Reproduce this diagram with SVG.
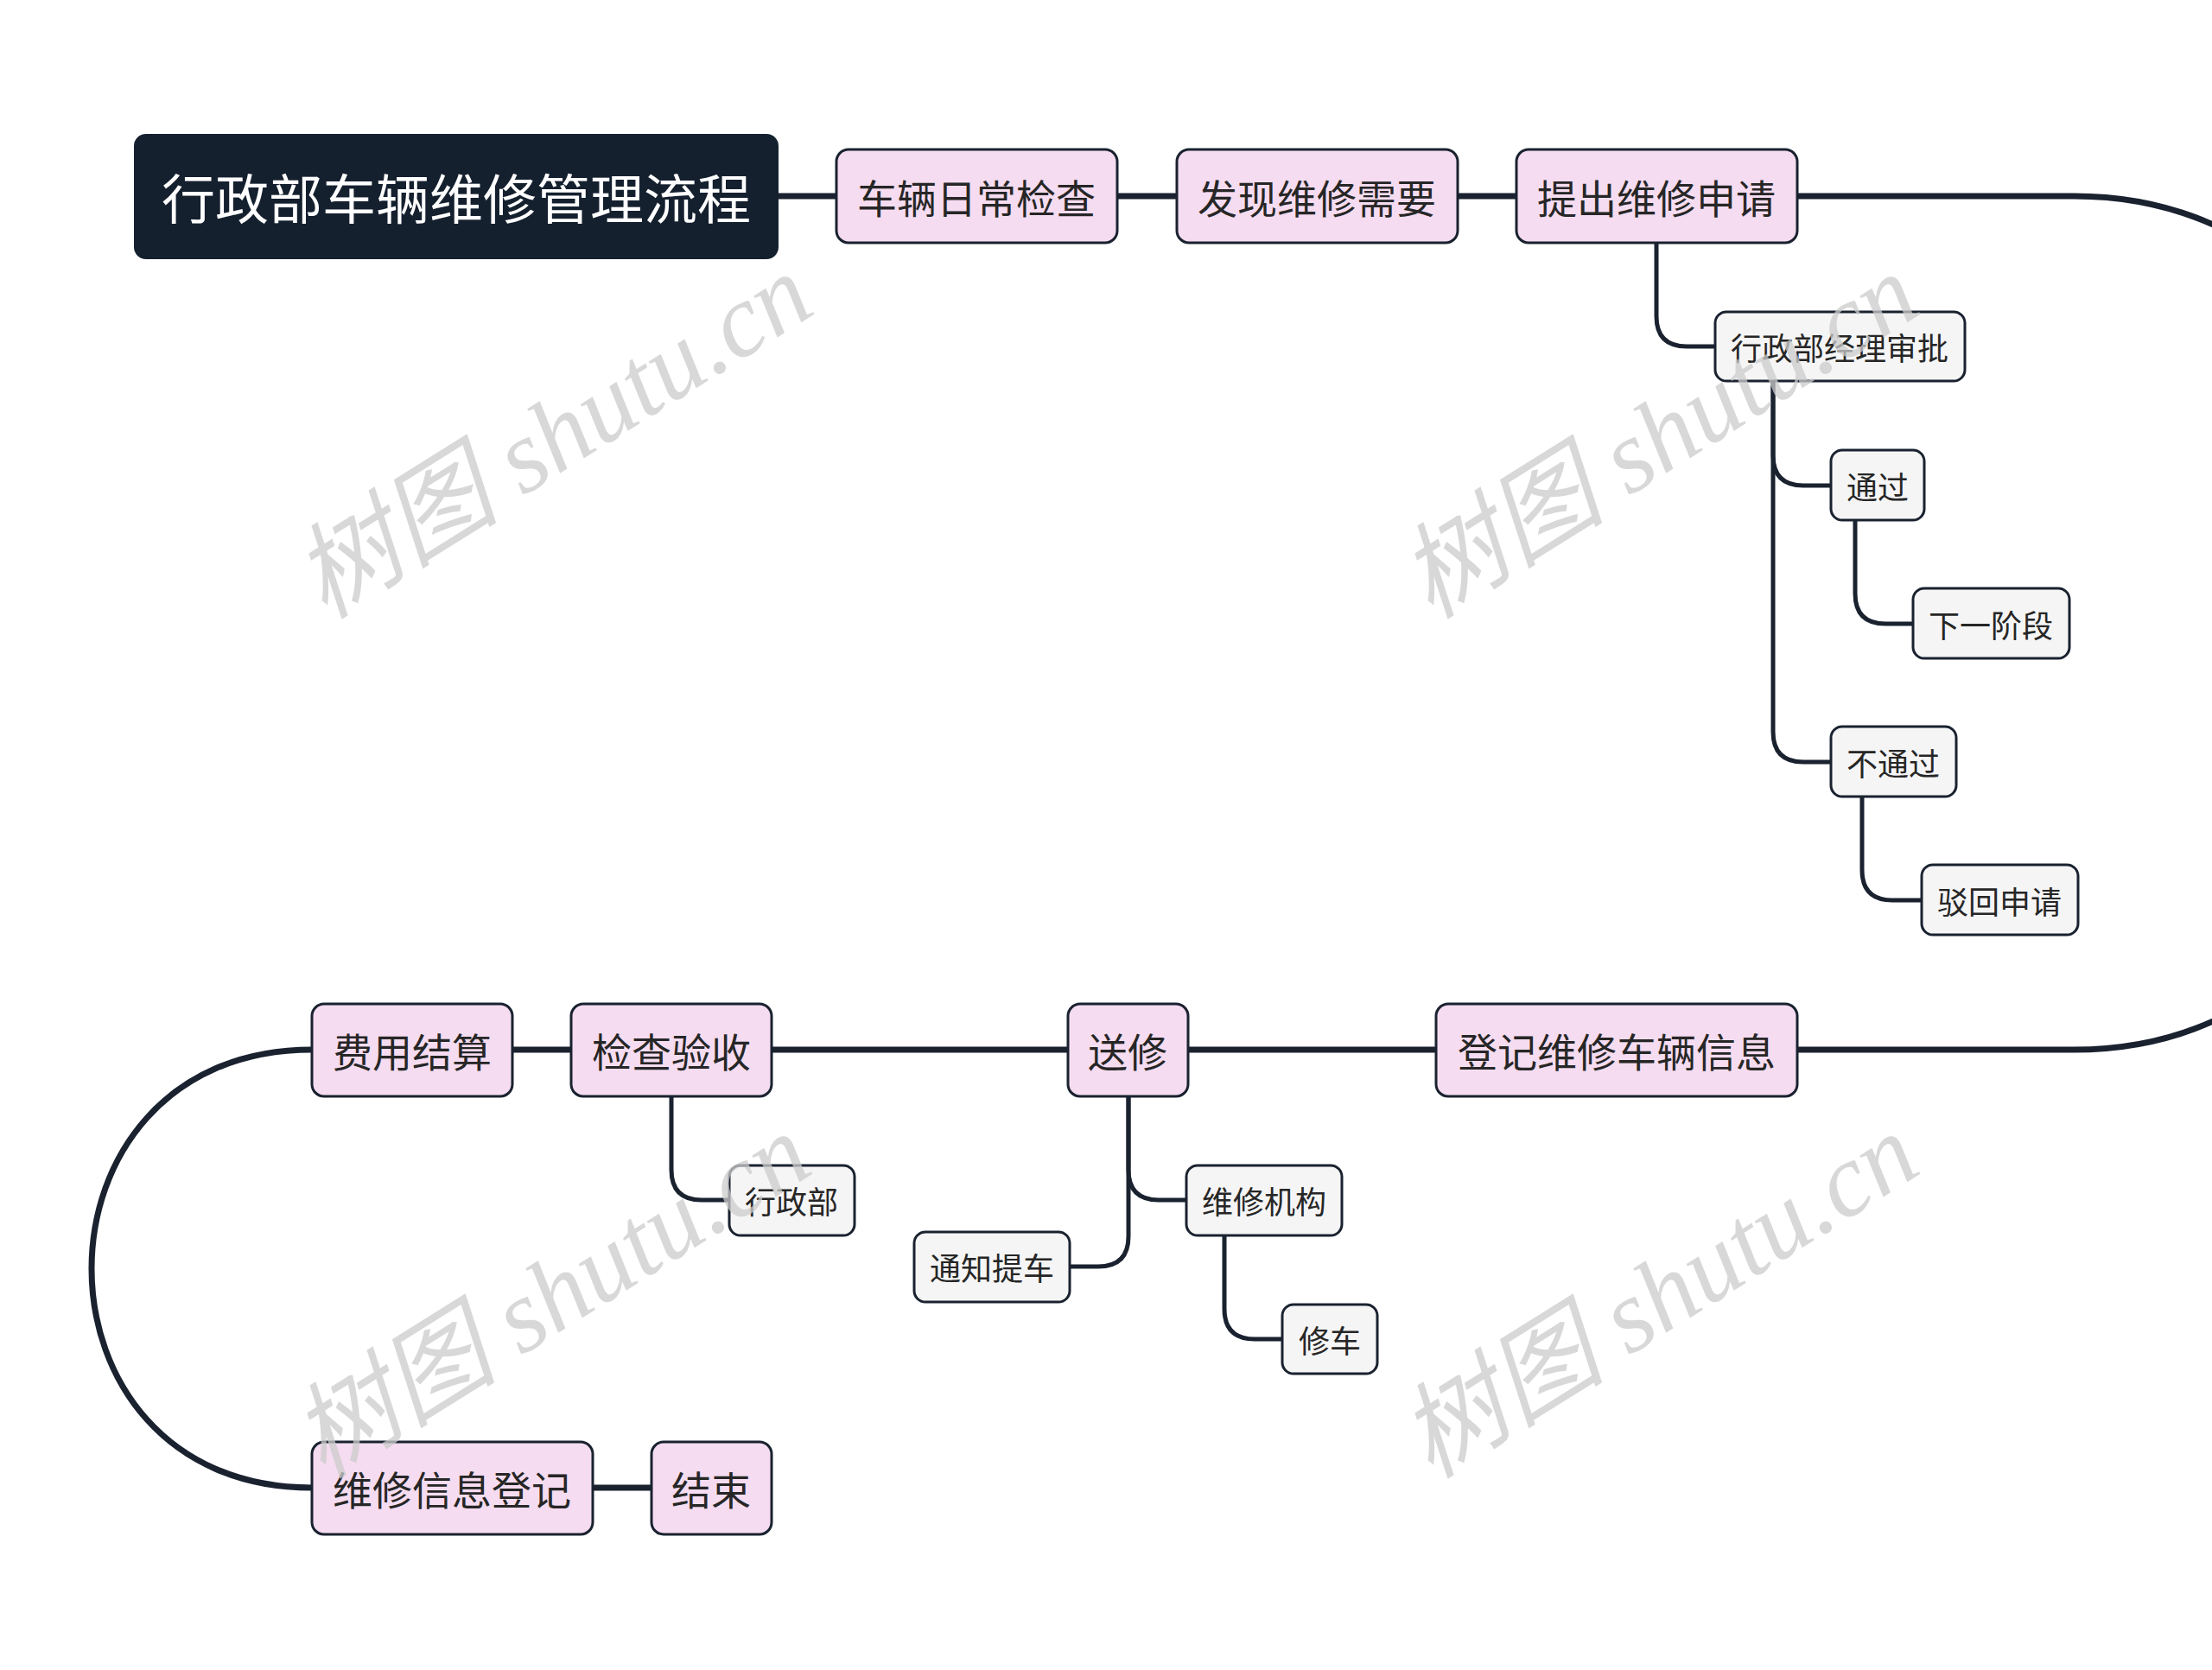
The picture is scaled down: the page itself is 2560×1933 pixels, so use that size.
<svg xmlns="http://www.w3.org/2000/svg" width="2560" height="1933" viewBox="0 0 2560 1933">
<style>
.main{fill:#f5dcf0;stroke:#1a2230;stroke-width:3}
.sub{fill:#f5f5f5;stroke:#1a2230;stroke-width:3}
.root{fill:#15202f}
.t{font-family:"Noto Sans CJK SC","Noto Sans",sans-serif;fill:#262626;text-anchor:middle;dominant-baseline:central}
.tm{font-size:46px}
.ts{font-size:36px}
.tr{font-size:62px;fill:#ffffff}
.c{fill:none;stroke:#1a2230;stroke-linecap:round}
.cm{stroke-width:7}
.cs{stroke-width:5}
.wm{font-family:"Liberation Serif","Noto Sans CJK SC",serif;font-style:italic;font-size:120px;fill:#cccccc;opacity:0.75}
</style>
<rect width="2560" height="1933" fill="#ffffff"/>
<g id="connectors">
<path class="c cm" d="M901 227H968"/>
<path class="c cm" d="M1293 227H1362"/>
<path class="c cm" d="M1687 227H1755"/>
<path class="c cm" d="M2080 227H2400C2950 227 2950 1215 2400 1215H2080"/>
<path class="c cm" d="M1662 1215H1375"/>
<path class="c cm" d="M1236 1215H893"/>
<path class="c cm" d="M661 1215H593"/>
<path class="c cm" d="M361 1215C21 1215 21 1722 361 1722"/>
<path class="c cm" d="M686 1722H754"/>
<path class="c cs" d="M1917 281V366Q1917 401 1952 401H1985"/>
<path class="c cs" d="M2052 441V527Q2052 562 2087 562H2119"/>
<path class="c cs" d="M2052 441V847Q2052 882 2087 882H2119"/>
<path class="c cs" d="M2147 602V687Q2147 722 2182 722H2214"/>
<path class="c cs" d="M2155 922V1007Q2155 1042 2190 1042H2224"/>
<path class="c cs" d="M777 1269V1354Q777 1389 812 1389H844"/>
<path class="c cs" d="M1306 1269V1354Q1306 1389 1341 1389H1373"/>
<path class="c cs" d="M1306 1269V1431Q1306 1466 1271 1466H1238"/>
<path class="c cs" d="M1417 1430V1515Q1417 1550 1452 1550H1484"/>
</g>
<g id="root"><rect class="root" x="155" y="155" width="746" height="145" rx="14"/><text class="t tr" x="528" y="227">行政部车辆维修管理流程</text></g>
<g id="n1"><rect class="main" x="968" y="173" width="325" height="108" rx="14"/><text class="t tm" x="1130" y="227">车辆日常检查</text></g>
<g id="n2"><rect class="main" x="1362" y="173" width="325" height="108" rx="14"/><text class="t tm" x="1524" y="227">发现维修需要</text></g>
<g id="n3"><rect class="main" x="1755" y="173" width="325" height="108" rx="14"/><text class="t tm" x="1917" y="227">提出维修申请</text></g>
<g id="n3a"><rect class="sub" x="1985" y="361" width="289" height="80" rx="13"/><text class="t ts" x="2129" y="401">行政部经理审批</text></g>
<g id="n3b"><rect class="sub" x="2119" y="521" width="108" height="81" rx="13"/><text class="t ts" x="2173" y="562">通过</text></g>
<g id="n3c"><rect class="sub" x="2214" y="681" width="181" height="81" rx="13"/><text class="t ts" x="2304" y="722">下一阶段</text></g>
<g id="n3d"><rect class="sub" x="2119" y="841" width="145" height="81" rx="13"/><text class="t ts" x="2191" y="882">不通过</text></g>
<g id="n3e"><rect class="sub" x="2224" y="1001" width="181" height="81" rx="13"/><text class="t ts" x="2314" y="1042">驳回申请</text></g>
<g id="n4"><rect class="main" x="1662" y="1162" width="418" height="107" rx="14"/><text class="t tm" x="1871" y="1215">登记维修车辆信息</text></g>
<g id="n5"><rect class="main" x="1236" y="1162" width="139" height="107" rx="14"/><text class="t tm" x="1305" y="1215">送修</text></g>
<g id="n5a"><rect class="sub" x="1373" y="1349" width="180" height="81" rx="13"/><text class="t ts" x="1463" y="1389">维修机构</text></g>
<g id="n5b"><rect class="sub" x="1484" y="1510" width="110" height="80" rx="13"/><text class="t ts" x="1539" y="1550">修车</text></g>
<g id="n5c"><rect class="sub" x="1058" y="1426" width="180" height="81" rx="13"/><text class="t ts" x="1148" y="1466">通知提车</text></g>
<g id="n6"><rect class="main" x="661" y="1162" width="232" height="107" rx="14"/><text class="t tm" x="777" y="1215">检查验收</text></g>
<g id="n6a"><rect class="sub" x="844" y="1349" width="145" height="81" rx="13"/><text class="t ts" x="916" y="1389">行政部</text></g>
<g id="n7"><rect class="main" x="361" y="1162" width="232" height="107" rx="14"/><text class="t tm" x="477" y="1215">费用结算</text></g>
<g id="n8"><rect class="main" x="361" y="1669" width="325" height="107" rx="14"/><text class="t tm" x="523" y="1722">维修信息登记</text></g>
<g id="n9"><rect class="main" x="754" y="1669" width="139" height="107" rx="14"/><text class="t tm" x="823" y="1722">结束</text></g>
<g id="watermarks">
<text class="wm" text-anchor="middle" dominant-baseline="central" transform="translate(640 505) rotate(-32)">树图 shutu.cn</text>
<text class="wm" text-anchor="middle" dominant-baseline="central" transform="translate(1920 505) rotate(-32)">树图 shutu.cn</text>
<text class="wm" text-anchor="middle" dominant-baseline="central" transform="translate(638 1500) rotate(-32)">树图 shutu.cn</text>
<text class="wm" text-anchor="middle" dominant-baseline="central" transform="translate(1920 1500) rotate(-32)">树图 shutu.cn</text>
</g>
</svg>
